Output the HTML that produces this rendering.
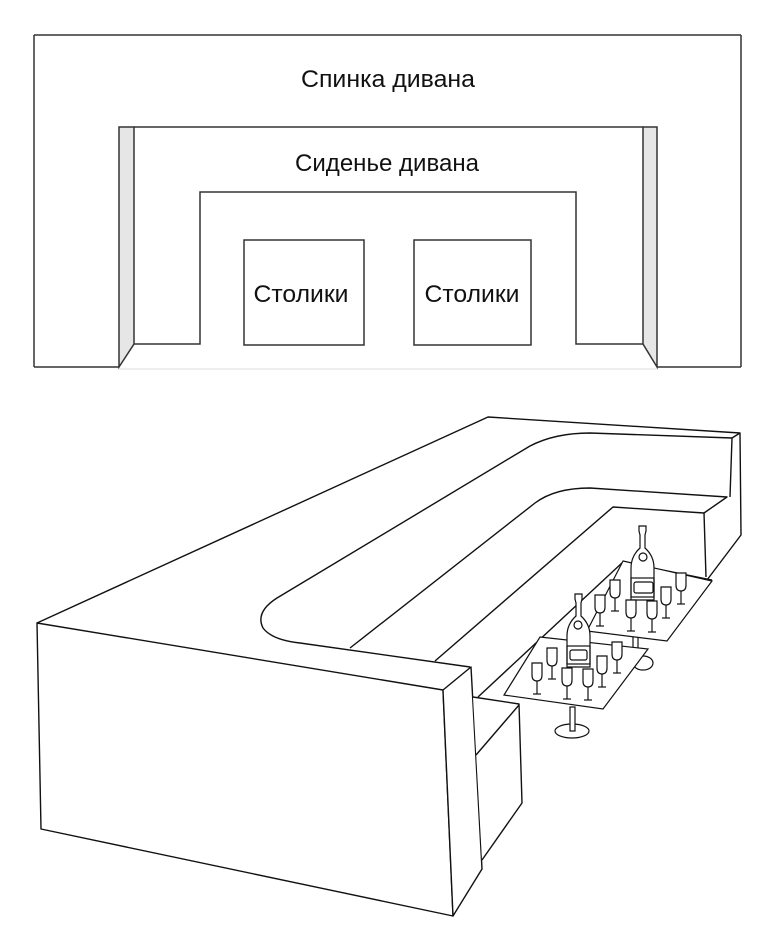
<!DOCTYPE html>
<html><head><meta charset="utf-8"><style>
html,body{margin:0;padding:0;background:#fff;}
svg{display:block;}
text{font-family:"Liberation Sans",sans-serif;fill:#111;}
</style></head><body>
<svg width="767" height="937" viewBox="0 0 767 937" xmlns="http://www.w3.org/2000/svg">
<defs>
<g id="gl" fill="#fff" stroke="#111" stroke-width="1.2">
<path d="M-5,0 L5,0 L5,12 Q5,18 0,18 Q-5,18 -5,12 Z"/>
<line x1="0" y1="18" x2="0" y2="31"/>
<line x1="-4" y1="31" x2="4" y2="31"/>
</g>
</defs>
<!-- top diagram -->
<g fill="none" stroke="#333" stroke-width="1.5">
<line x1="34" y1="35" x2="741" y2="35"/>
<line x1="34" y1="35" x2="34" y2="367"/>
<line x1="741" y1="35" x2="741" y2="367"/>
<line x1="34" y1="367" x2="119" y2="367"/>
<line x1="657" y1="367" x2="741" y2="367"/>
</g>
<line x1="119" y1="369" x2="657" y2="369" stroke="#ddd" stroke-width="1"/>
<path d="M119,127 L134,127 L134,344 L119,367 Z" fill="#e6e6e6" stroke="#333" stroke-width="1.5"/>
<path d="M657,127 L643,127 L643,344 L657,367 Z" fill="#e6e6e6" stroke="#333" stroke-width="1.5"/>
<g fill="none" stroke="#333" stroke-width="1.5">
<line x1="134" y1="127" x2="643" y2="127"/>
<polyline points="134,344 200,344 200,192 576,192 576,344 643,344"/>
<rect x="244" y="240" width="120" height="105"/>
<rect x="414" y="240" width="117" height="105"/>
</g>
<g transform="translate(0,0)">
<text x="388" y="87" font-size="24" text-anchor="middle" textLength="174" lengthAdjust="spacingAndGlyphs">Спинка дивана</text>
<text x="387" y="171" font-size="24" text-anchor="middle" textLength="184" lengthAdjust="spacingAndGlyphs">Сиденье дивана</text>
<text x="301" y="302" font-size="24" text-anchor="middle" textLength="95" lengthAdjust="spacingAndGlyphs">Столики</text>
<text x="472" y="302" font-size="24" text-anchor="middle" textLength="95" lengthAdjust="spacingAndGlyphs">Столики</text>
</g>

<!-- bottom drawing -->
<g fill="none" stroke="#111" stroke-width="1.4" stroke-linejoin="round">
<polyline points="37,623 488,417 740,433 741,535 707,580"/>
<polyline points="740,433 732,438 730,497"/>
<path d="M732,438 L590,433 Q555,433 530,446 L277,598 Q255,612 263,628 Q272,640 300,643 L470,667"/>
<path d="M350,648 L535,503 Q555,488 590,488 L727,497 L704,513"/>
<polyline points="435,661 613,507 704,513 706,577"/>
<polyline points="478,697 623,562 712,580"/>
<path d="M37,623 L443,690 L453,916 L41,829 Z" fill="#fff"/>
<path d="M443,690 L471,667 L482,869 L453,916 Z" fill="#fff"/>
<path d="M473,697 L519,704 L522,803 L482,860" fill="#fff"/>
<line x1="519" y1="705" x2="476" y2="755"/>
</g>
<!-- back table -->
<g stroke="#111" stroke-width="1.2" fill="#fff">
<ellipse cx="643" cy="663" rx="10" ry="7"/>
<rect x="633" y="636" width="5" height="26"/>
<polygon points="623,561 712,581 667,641 587,631"/>
<path d="M639,526 L646,526 L646,531 L645,535 L645,548 Q654,556 654,568 L654,600 L631,600 L631,568 Q631,556 640,548 L640,535 L639,531 Z"/>
<circle cx="643" cy="557" r="4"/>
<rect x="634" y="582" width="19" height="11" rx="2"/>
<rect x="631" y="578" width="23" height="19" fill="none"/>
</g>
<use href="#gl" x="600" y="595"/>
<use href="#gl" x="615" y="580"/>
<use href="#gl" x="631" y="600"/>
<use href="#gl" x="652" y="601"/>
<use href="#gl" x="666" y="587"/>
<use href="#gl" x="681" y="573"/>
<!-- front table -->
<g stroke="#111" stroke-width="1.2" fill="#fff">
<ellipse cx="572" cy="731" rx="17" ry="7"/>
<rect x="570" y="707" width="5" height="24"/>
<polygon points="540,637 648,649 603,709 504,695"/>
<path d="M575,594 L582,594 L582,599 L581,603 L581,616 Q590,624 590,636 L590,667 L567,667 L567,636 Q567,624 576,616 L576,603 L575,599 Z"/>
<circle cx="578" cy="625" r="4"/>
<rect x="570" y="650" width="17" height="10" rx="2"/>
<rect x="567" y="646" width="23" height="18" fill="none"/>
</g>
<use href="#gl" x="537" y="663"/>
<use href="#gl" x="552" y="648"/>
<use href="#gl" x="567" y="668"/>
<use href="#gl" x="588" y="669"/>
<use href="#gl" x="602" y="656"/>
<use href="#gl" x="617" y="642"/>
</svg>
</body></html>
